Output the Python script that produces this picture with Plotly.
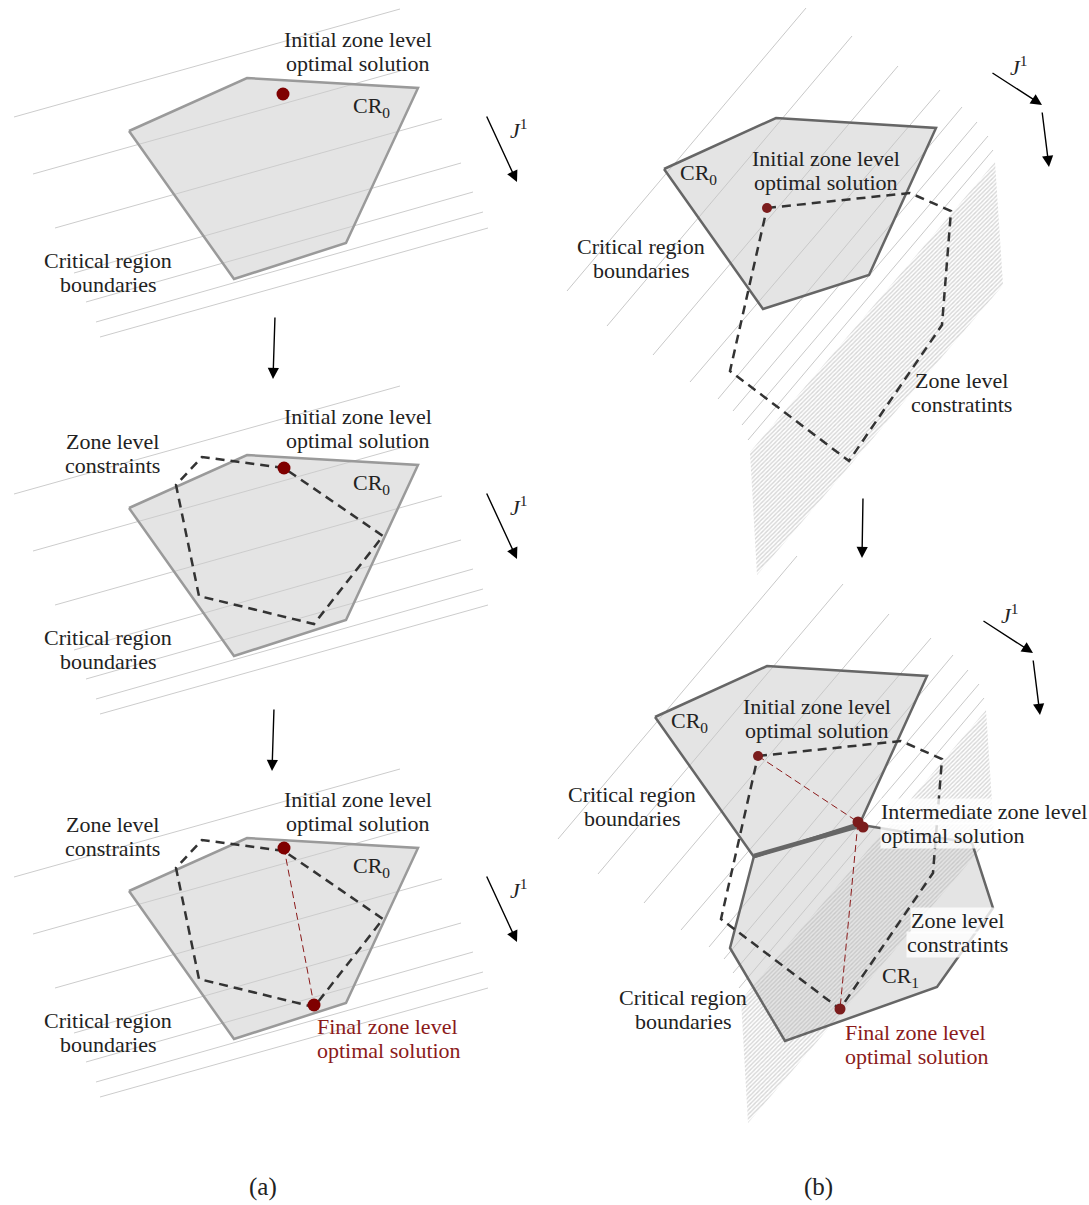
import plotly.graph_objects as go

# ---------- panel (a): three stacked steps, coords local to the first step ----------
A_OFFSETS = [0, 377, 760]
A_CR0_X = [129, 247, 418, 346, 234]
A_CR0_Y = [131, 78, 88, 243, 279]
A_LINES = [
    (14, 117, 400, 9),
    (33, 174, 400, 71),
    (55, 228, 442, 119),
    (74, 273, 461, 163),
    (86, 302, 473, 192),
    (96, 322, 483, 212),
    (100, 337, 488, 228),
]
A_ZONE_X = [284, 202, 176, 199, 314, 383, 284]
A_ZONE_Y = [91, 80, 108, 219, 247, 159, 91]
A_INIT_DOT = [(283, 94), (284, 468), (284, 848)]
A_FINAL_DOT = (314, 1005)

# ---------- panel (b): two steps, second one shifted ----------
B_OFFSETS = [(0, 0), (-9, 548)]
B_CR0_X = [664, 776, 936, 869, 763]
B_CR0_Y = [169, 118, 128, 275, 309]
B_LINES = [
    (567, 291, 806, 8),
    (607, 326, 852, 36),
    (653, 355, 898, 66),
    (690, 382, 940, 90),
    (718, 399, 962, 107),
    (733, 411, 977, 122),
    (742, 425, 988, 136),
    (748, 440, 993, 150),
]
B_DENSE_X = [750, 995, 1003, 757]
B_DENSE_Y = [452, 162, 285, 575]
B_ZONE_X = [767, 910, 951, 942, 849, 730, 767]
B_ZONE_Y = [208, 193, 211, 325, 461, 371, 208]
B_INIT_DOT = (767, 208)
B_CR1_X = [754, 862, 972, 993, 937, 785, 730]
B_CR1_Y = [856, 825, 843, 908, 987, 1041, 948]
B_MID_DOTS = [(858, 822), (863, 827)]
B_FINAL_DOT = (840, 1009)

FONT = "Liberation Serif"
TXT = "#222222"
RED_TXT = "#8b1a1a"
LINE_GAP = 24

fig = go.Figure()


def segs(lines, dx=0, dy=0):
    xs, ys = [], []
    for x0, y0, x1, y1 in lines:
        xs += [x0 + dx, x1 + dx, None]
        ys += [y0 + dy, y1 + dy, None]
    return xs, ys


def poly(xs, ys, dx, dy, fill="#e4e4e4"):
    px = [x + dx for x in xs] + [xs[0] + dx]
    py = [y + dy for y in ys] + [ys[0] + dy]
    fig.add_trace(go.Scatter(x=px, y=py, mode="lines", fill="toself",
                             fillcolor=fill, line={"width": 0}))
    return px, py


def outline(px, py, color, width=2.5):
    fig.add_trace(go.Scatter(x=px, y=py, mode="lines",
                             line={"color": color, "width": width}))


def text(x, y, lines, color=TXT, size=22, xanchor="center", bg=None):
    # one annotation per text line so the line spacing matches the figure
    if isinstance(lines, str):
        lines = [lines]
    for k, s in enumerate(lines):
        fig.add_annotation(x=x, y=y + k * LINE_GAP, text=s, showarrow=False,
                           xanchor=xanchor, yanchor="middle",
                           font={"family": FONT, "size": size, "color": color},
                           bgcolor=bg, borderpad=0)


def arrow(x0, y0, x1, y1, width=1.4):
    fig.add_annotation(x=x1, y=y1, ax=x0, ay=y0, xref="x", yref="y",
                       axref="x", ayref="y", text="", showarrow=True,
                       arrowhead=2, arrowsize=1.6, arrowwidth=width,
                       arrowcolor="black")


# ---------- panel (a) ----------
for i, off in enumerate(A_OFFSETS):
    px, py = poly(A_CR0_X, A_CR0_Y, 0, off)
    lx, ly = segs(A_LINES, 0, off)
    fig.add_trace(go.Scatter(x=lx, y=ly, mode="lines",
                             line={"color": "#cccccc", "width": 1}))
    outline(px, py, "#9a9a9a")
    if i > 0:
        fig.add_trace(go.Scatter(x=A_ZONE_X, y=[y + off for y in A_ZONE_Y],
                                 mode="lines",
                                 line={"color": "#333333", "width": 2.5,
                                       "dash": "9px,6px"}))
        text(112, 64 + off, ["Zone level", "constraints"])
    if i == 2:
        fig.add_trace(go.Scatter(x=[A_INIT_DOT[2][0], A_FINAL_DOT[0]],
                                 y=[A_INIT_DOT[2][1], A_FINAL_DOT[1]],
                                 mode="lines",
                                 line={"color": "#8b1a1a", "width": 1,
                                       "dash": "7px,4px"}))
        fig.add_trace(go.Scatter(x=[A_FINAL_DOT[0]], y=[A_FINAL_DOT[1]],
                                 mode="markers",
                                 marker={"size": 13, "color": "#7f0000"}))
        text(316, 1026, ["Final zone level", "optimal solution"],
             color=RED_TXT, xanchor="left")
    fig.add_trace(go.Scatter(x=[A_INIT_DOT[i][0]], y=[A_INIT_DOT[i][1]],
                             mode="markers",
                             marker={"size": 13, "color": "#7f0000"}))
    text(358, 39 + off, ["Initial zone level", "optimal solution"])
    text(371, 107 + off, "CR<sub>0</sub>")
    text(108, 260 + off, ["Critical region", "boundaries"])
    arrow(486, 115 + off, 517, 182 + off)
    text(518, 129 + off, "<i>J</i><sup>1</sup>")

arrow(275, 316, 273, 379)
arrow(274, 708, 272, 771)

# ---------- panel (b) ----------
for i, (dx, dy) in enumerate(B_OFFSETS):
    px, py = poly(B_CR0_X, B_CR0_Y, dx, dy)
    if i == 1:
        qx, qy = poly(B_CR1_X, B_CR1_Y, 0, 0)
    lx, ly = segs(B_LINES, dx, dy)
    fig.add_trace(go.Scatter(x=lx, y=ly, mode="lines",
                             line={"color": "#c8c8c8", "width": 1}))
    fig.add_trace(go.Scatter(
        x=[x + dx for x in B_DENSE_X] + [B_DENSE_X[0] + dx],
        y=[y + dy for y in B_DENSE_Y] + [B_DENSE_Y[0] + dy],
        mode="lines", fill="toself", fillcolor="rgba(0,0,0,0)",
        fillpattern={"shape": "/", "size": 3, "solidity": 0.45,
                     "fgcolor": "#adadad", "fillmode": "overlay"},
        line={"width": 0}))
    outline(px, py, "#666666")
    if i == 1:
        outline(qx, qy, "#666666")
        outline(B_CR1_X[:2], B_CR1_Y[:2], "#666666", width=4.5)
    fig.add_trace(go.Scatter(x=[x + dx for x in B_ZONE_X],
                             y=[y + dy for y in B_ZONE_Y], mode="lines",
                             line={"color": "#333333", "width": 2.5,
                                   "dash": "9px,6px"}))
    ix, iy = B_INIT_DOT[0] + dx, B_INIT_DOT[1] + dy
    if i == 1:
        fig.add_trace(go.Scatter(
            x=[ix, B_MID_DOTS[0][0], B_FINAL_DOT[0]],
            y=[iy, B_MID_DOTS[0][1], B_FINAL_DOT[1]], mode="lines",
            line={"color": "#8b1a1a", "width": 1, "dash": "7px,4px"}))
        fig.add_trace(go.Scatter(
            x=[d[0] for d in B_MID_DOTS] + [B_FINAL_DOT[0]],
            y=[d[1] for d in B_MID_DOTS] + [B_FINAL_DOT[1]],
            mode="markers", marker={"size": 11, "color": "#7b1c1c"}))
    fig.add_trace(go.Scatter(x=[ix], y=[iy], mode="markers",
                             marker={"size": 10, "color": "#7b1c1c"}))
    text(698 + dx, 174 + dy, "CR<sub>0</sub>")
    text(826 + dx, 158 + dy, ["Initial zone level", "optimal solution"])
    text(641 + dx, 246 + dy, ["Critical region", "boundaries"])
    arrow(991 + dx, 72 + dy, 1042 + dx, 105 + dy)
    arrow(1042 + dx, 111 + dy, 1049 + dx, 167 + dy)
    text(1018 + dx, 66 + dy, "<i>J</i><sup>1</sup>")

text(961, 380, ["Zone level", "constratints"])
arrow(863, 497, 862, 558)

text(880, 811, ["Intermediate zone level", "optimal solution"],
     xanchor="left", bg="rgba(255,255,255,0.8)")
text(957, 920, ["Zone level", "constratints"], bg="rgba(255,255,255,0.8)")
text(900, 977, "CR<sub>1</sub>")
text(683, 997, ["Critical region", "boundaries"])
text(844, 1032, ["Final zone level", "optimal solution"], color=RED_TXT,
     xanchor="left")

text(263, 1187, "(a)", size=25)
text(818, 1187, "(b)", size=25)

fig.update_layout(
    width=1089, height=1205,
    margin={"l": 0, "r": 0, "t": 0, "b": 0},
    paper_bgcolor="white", plot_bgcolor="white",
    showlegend=False,
    xaxis={"range": [0, 1089], "visible": False, "fixedrange": True},
    yaxis={"range": [1205, 0], "visible": False, "fixedrange": True},
)

fig.write_html("out.html", config={"displayModeBar": False},
               post_script="document.body.style.margin='0';")
